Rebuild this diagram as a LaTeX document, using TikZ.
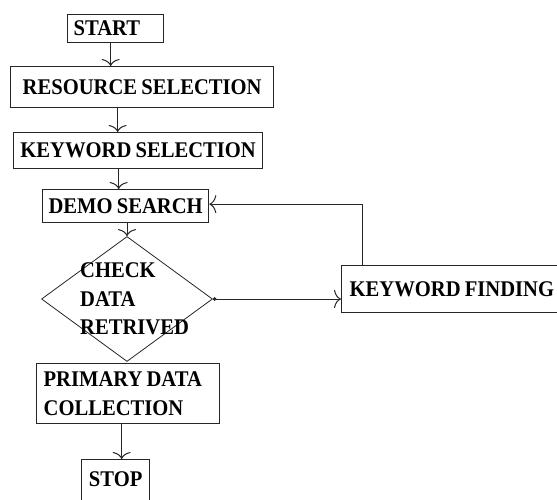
\documentclass[tikz,border=0pt]{standalone}
\usepackage{fontspec}
\setmainfont{Liberation Serif}
\newfontfamily\boxfont{Liberation Serif}[FakeStretch=0.92, WordSpace=0.8]
\usetikzlibrary{arrows.meta, shapes.geometric}
\begin{document}
\begin{tikzpicture}[x=1pt, y=-1pt,
	box/.style={draw=black!85, line width=1.3pt, anchor=north west, inner sep=0pt, font=\boxfont\fontsize{22.4}{28.5}\selectfont\bfseries},
	arr/.style={draw=black!85, line width=1pt, -{To[length=7pt, width=18pt]}}]
	\useasboundingbox (0,0) rectangle (557,500);
	\node[box, minimum width=96, minimum height=28, text width=84, inner xsep=6, align=flush left] (start) at (67,14) {START};
	\node[box, minimum width=263, minimum height=41] (res) at (10,66) {RESOURCE SELECTION};
	\node[box, minimum width=249, minimum height=36] (kws) at (13,132) {KEYWORD SELECTION};
	\node[box, minimum width=166, minimum height=33] (demo) at (42,189) {DEMO SEARCH};
	\node[diamond, draw=black!85, line width=0.8pt, minimum width=171, minimum height=125, inner sep=0pt] (check) at (127,299) {};
	\node[anchor=west, inner sep=0pt, align=left, font=\boxfont\fontsize{22.4}{28.5}\selectfont\bfseries] (checktext) at (80,299) {CHECK\\DATA\\RETRIVED};
	\node[box, minimum width=183, minimum height=60, text width=169, inner xsep=7, align=flush left] (prim) at (36,363) {PRIMARY DATA\\COLLECTION};
	\node[box, minimum width=68, text height=27, text depth=22, inner ysep=0pt] (stop) at (81,459) {STOP};
	\node[box, minimum width=240, minimum height=47, text width=224, inner xsep=8, align=flush left] (kf) at (341,265) {KEYWORD FINDING};
	\draw[arr] ([xshift=-5]start.south) -- ([xshift=-5]start.south |- res.north);
	\draw[arr] ([xshift=-24.5]res.south) -- ([xshift=-24.5]res.south |- kws.north);
	\draw[arr] ([xshift=-19.5]kws.south) -- ([xshift=-19.5]kws.south |- demo.north);
	\draw[arr] (demo.south -| check.north) -- (check.north);
	\draw[arr, {Circle[length=3.5pt]}-{To[length=7pt, width=18pt]}] (check.east) -- (check.east -| kf.west);
	\draw[arr] ([xshift=21]kf.north west) |- ([yshift=2]demo.east);
	\draw[arr] ([xshift=6]stop.north |- prim.south) -- ([xshift=6]stop.north);
\end{tikzpicture}
\end{document}
